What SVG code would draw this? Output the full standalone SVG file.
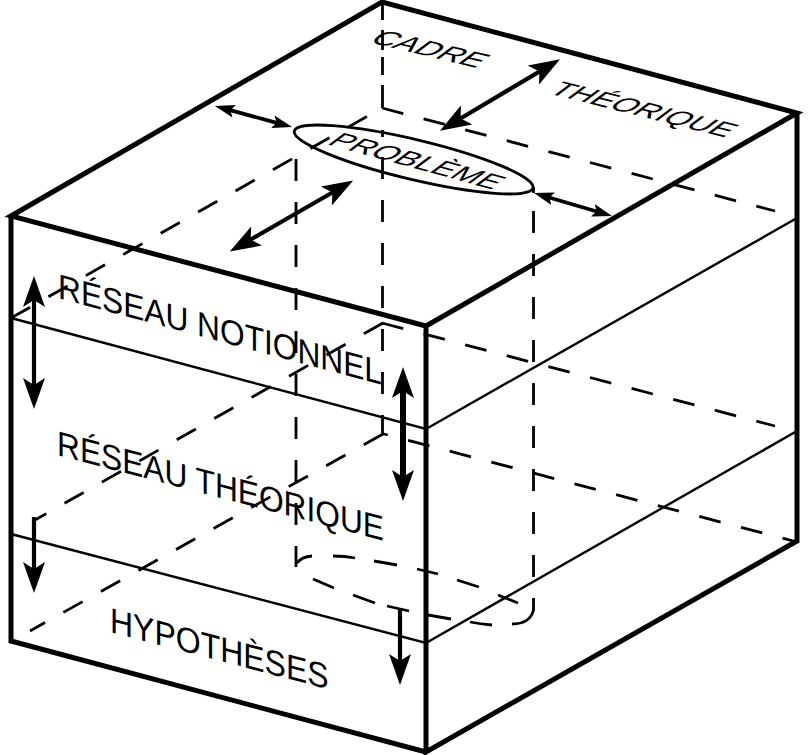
<svg xmlns="http://www.w3.org/2000/svg" width="809" height="755" viewBox="0 0 809 755">
<style>
.frame{fill:none;stroke:#000;stroke-width:5;stroke-linejoin:miter}
.solid{fill:none;stroke:#000;stroke-width:2.4}
.plain{fill:none;stroke:#000;stroke-width:2.8}
.dash{fill:none;stroke:#000;stroke-width:2.8;stroke-dasharray:22 21}
.arrow{stroke:#000;fill:none}
text{font-family:"Liberation Sans",Arial,sans-serif;fill:#000}
</style>
<defs>
<marker id="head-l" markerUnits="userSpaceOnUse" markerWidth="32" markerHeight="22" refX="10" refY="11" orient="auto-start-reverse" viewBox="0 0 32 22"><path d="M31,11 L0,0 L7,11 L0,22 Z"/></marker>
<marker id="head-s" markerUnits="userSpaceOnUse" markerWidth="21" markerHeight="13" refX="6" refY="6.5" orient="auto-start-reverse" viewBox="0 0 21 13"><path d="M20,6.5 L0,0 L4,6.5 L0,13 Z"/></marker>
</defs>

<g id="layer-lines">
<path class="solid" d="M11,318 L426,429 L797,218"/>
<path class="solid" d="M11,534 L426,643 L797,431"/>
</g>

<g id="hidden-edges">
<!-- back vertical edge, tighter above the first plane -->
<path class="plain" d="M382.5,2 V20 M382.5,30 V50 M382.5,57 V75 M382.5,85 V108 M382.5,130 V137"/>
<path class="dash" stroke-dasharray="21 22" d="M382.5,157 V433"/>
<!-- upper plane -->
<path class="dash" d="M382,108 L775,211"/>
<path class="dash" d="M11,318 L382,108"/>
<!-- middle plane -->
<path class="dash" d="M382,323 L775,426"/>
<path class="dash" d="M383,323 L35,520"/>
<!-- lower plane -->
<path class="dash" stroke-dashoffset="16" d="M382,433.5 L797,542"/>
<path class="dash" d="M383,434 L30,631"/>
</g>

<g id="problem-cylinder">
<ellipse class="plain" cx="413.7" cy="159.5" rx="122.7" ry="20" transform="rotate(13.4 413.7 159.5)"/>
<path class="dash" stroke-dasharray="21 22" d="M296,159 V567"/>
<path class="plain" d="M533.5,187 V193"/>
<path class="dash" stroke-dasharray="21 22" d="M533.5,211 V577"/>
<path class="plain" d="M533.5,598 V610 Q530,624 512,624"/>
<!-- rim at the base of the cylinder -->
<path class="plain" d="M297,563 Q301,557 312,556 M333,556 Q345,556 355,558 M374,561 L397,565 M417,569 L438,574 M457,580 L479,587 M498,595 L518,603"/>
<path class="plain" d="M313,579 L334,588 M353,595 L375,603 M387,606 L409,611 M428,615 L451,619 M470,622 Q480,624 492,625"/>
</g>

<g id="cube-outline">
<path class="frame" d="M426,326 L11,216 L382,2 L797,113 L426,326 L426,752 L797,541 L797,113"/>
<path class="frame" d="M11,216 L11,641 L426,752"/>
</g>

<g id="connectors">
<path class="arrow" stroke-width="3.8" marker-start="url(#head-s)" marker-end="url(#head-s)" d="M228.4,109.7 L278.6,123.3"/>
<path class="arrow" stroke-width="3.8" marker-start="url(#head-s)" marker-end="url(#head-s)" d="M547.4,197 L598.6,212"/>
<path class="arrow" stroke-width="4.2" marker-start="url(#head-l)" marker-end="url(#head-l)" d="M542,70 L458,120"/>
<path class="arrow" stroke-width="4.2" marker-start="url(#head-l)" marker-end="url(#head-l)" d="M335,191 L248,241"/>
<path class="arrow" stroke-width="4.2" marker-start="url(#head-l)" marker-end="url(#head-l)" d="M34,297 L34,388"/>
<path class="arrow" stroke-width="6" marker-start="url(#head-l)" marker-end="url(#head-l)" d="M403,388 L403,480"/>
<path class="arrow" stroke-width="4.2" marker-end="url(#head-l)" d="M34,517 L34,572"/>
<path class="arrow" stroke-width="4.2" marker-end="url(#head-l)" d="M400,608 L400,664"/>
</g>

<g id="labels">
<text id="label-cadre" transform="matrix(1,0.24,-0.76,0.57,368,42)" style="font-size:31px">CADRE</text>
<text id="label-theorique-top" transform="matrix(1,0.25,-0.76,0.57,547,93)" style="font-size:30px">THÉORIQUE</text>
<text id="label-probleme" transform="matrix(1,0.274,-0.76,0.57,326,144)" style="font-size:30px">PROBLÈME</text>
<text id="label-reseau-notionnel" transform="matrix(1,0.268,0,1.1,58,298)" style="font-size:31.7px">RÉSEAU NOTIONNEL</text>
<text id="label-reseau-theorique" transform="matrix(1,0.262,0,1.1,57,455)" style="font-size:31.7px">RÉSEAU THÉORIQUE</text>
<text id="label-hypotheses" transform="matrix(1,0.262,0,1.1,110,632)" style="font-size:32px">HYPOTHÈSES</text>
</g>
</svg>
